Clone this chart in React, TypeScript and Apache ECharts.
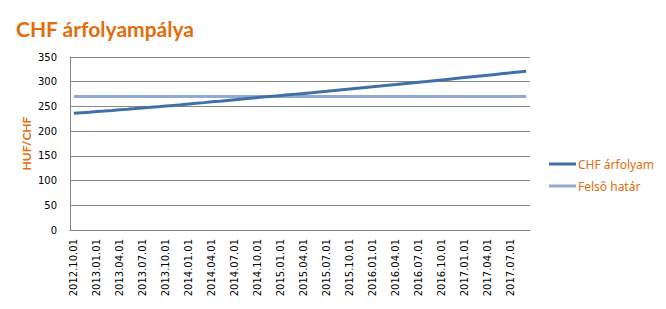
import React, { useEffect, useRef } from "react";
import * as echarts from "echarts";

const months: string[] = [
  "2012.10.01", "2012.11.01", "2012.12.01",
  "2013.01.01", "2013.02.01", "2013.03.01", "2013.04.01", "2013.05.01", "2013.06.01",
  "2013.07.01", "2013.08.01", "2013.09.01", "2013.10.01", "2013.11.01", "2013.12.01",
  "2014.01.01", "2014.02.01", "2014.03.01", "2014.04.01", "2014.05.01", "2014.06.01",
  "2014.07.01", "2014.08.01", "2014.09.01", "2014.10.01", "2014.11.01", "2014.12.01",
  "2015.01.01", "2015.02.01", "2015.03.01", "2015.04.01", "2015.05.01", "2015.06.01",
  "2015.07.01", "2015.08.01", "2015.09.01", "2015.10.01", "2015.11.01", "2015.12.01",
  "2016.01.01", "2016.02.01", "2016.03.01", "2016.04.01", "2016.05.01", "2016.06.01",
  "2016.07.01", "2016.08.01", "2016.09.01", "2016.10.01", "2016.11.01", "2016.12.01",
  "2017.01.01", "2017.02.01", "2017.03.01", "2017.04.01", "2017.05.01", "2017.06.01",
  "2017.07.01", "2017.08.01", "2017.09.01",
];

const chfRate: number[] = [
  236.0, 237.2, 238.3,
  239.6, 240.7, 241.9, 243.3, 244.4, 245.6,
  247.0, 248.2, 249.5, 250.8, 252.1, 253.3,
  254.8, 256.3, 257.7, 259.3, 260.7, 262.2,
  263.7, 265.1, 266.6, 268.0, 269.4, 270.8,
  272.1, 273.5, 274.9, 276.3, 277.7, 279.2,
  280.6, 282.1, 283.6, 285.1, 286.6, 288.1,
  289.6, 291.1, 292.7, 294.2, 295.8, 297.3,
  298.9, 300.4, 302.0, 303.6, 305.2, 306.8,
  308.4, 310.0, 311.6, 313.2, 314.8, 316.4,
  318.0, 319.7, 321.4,
];

const upperLimitValue = 270;
const upperLimit: number[] = months.map(() => upperLimitValue);

const seriesNames = ["CHF árfolyam", "Felső határ"];
const titleText = "CHF árfolyampálya";
const yAxisName = "HUF/CHF";

const ORANGE = "#E46C0A";

export default function App() {
  const ref = useRef<HTMLDivElement>(null);
  useEffect(() => {
    if (!ref.current) return;
    const chart = echarts.init(ref.current, null, { renderer: "svg" });
    chart.setOption({
      animation: false,
      backgroundColor: "#ffffff",
      title: {
        text: titleText,
        left: 11,
        top: 13,
        textStyle: {
          color: ORANGE,
          fontFamily: "Lato",
          fontWeight: "bold",
          fontSize: 21,
        },
      },
      legend: {
        orient: "vertical",
        left: 549,
        top: 158,
        padding: 0,
        itemGap: 10,
        itemWidth: 27,
        itemHeight: 3,
        icon: "rect",
        textStyle: {
          color: ORANGE,
          fontFamily: "Noto Sans",
          fontSize: 12,
          padding: [0, 0, 0, -3],
        },
        data: seriesNames,
      },
      grid: {
        left: 70,
        right: 136,
        top: 57,
        bottom: 79,
        containLabel: false,
      },
      xAxis: {
        type: "category",
        data: months,
        boundaryGap: true,
        axisLine: { lineStyle: { color: "#868686", width: 1 } },
        axisTick: { show: false },
        axisLabel: {
          interval: 2,
          rotate: 90,
          color: "#000",
          fontFamily: "DejaVu Sans",
          fontSize: 10,
          margin: 9,
        },
        splitLine: { show: false },
      },
      yAxis: {
        type: "value",
        min: 0,
        max: 350,
        interval: 50,
        name: yAxisName,
        nameLocation: "middle",
        nameGap: 38,
        nameRotate: 90,
        nameMoveOverlap: false,
        nameTextStyle: {
          color: ORANGE,
          fontFamily: "Lato",
          fontWeight: "bold",
          fontSize: 12,
        },
        axisLine: { show: true, lineStyle: { color: "#868686", width: 1 } },
        axisTick: { show: false },
        axisLabel: {
          color: "#000",
          fontFamily: "DejaVu Sans",
          fontSize: 10,
          margin: 13,
        },
        splitLine: { lineStyle: { color: "#868686", width: 1 } },
      },
      series: [
        {
          name: seriesNames[0],
          type: "line",
          data: chfRate,
          showSymbol: false,
          symbol: "none",
          lineStyle: { color: "#4170A8", width: 3 },
          itemStyle: { color: "#4170A8" },
          z: 3,
        },
        {
          name: seriesNames[1],
          type: "line",
          data: upperLimit,
          showSymbol: false,
          symbol: "none",
          lineStyle: { color: "#93A9CF", width: 3 },
          itemStyle: { color: "#93A9CF" },
          z: 2,
        },
      ],
    });
    return () => chart.dispose();
  }, []);
  return <div ref={ref} style={{ width: 666, height: 309, margin: -8 }} />;
}
